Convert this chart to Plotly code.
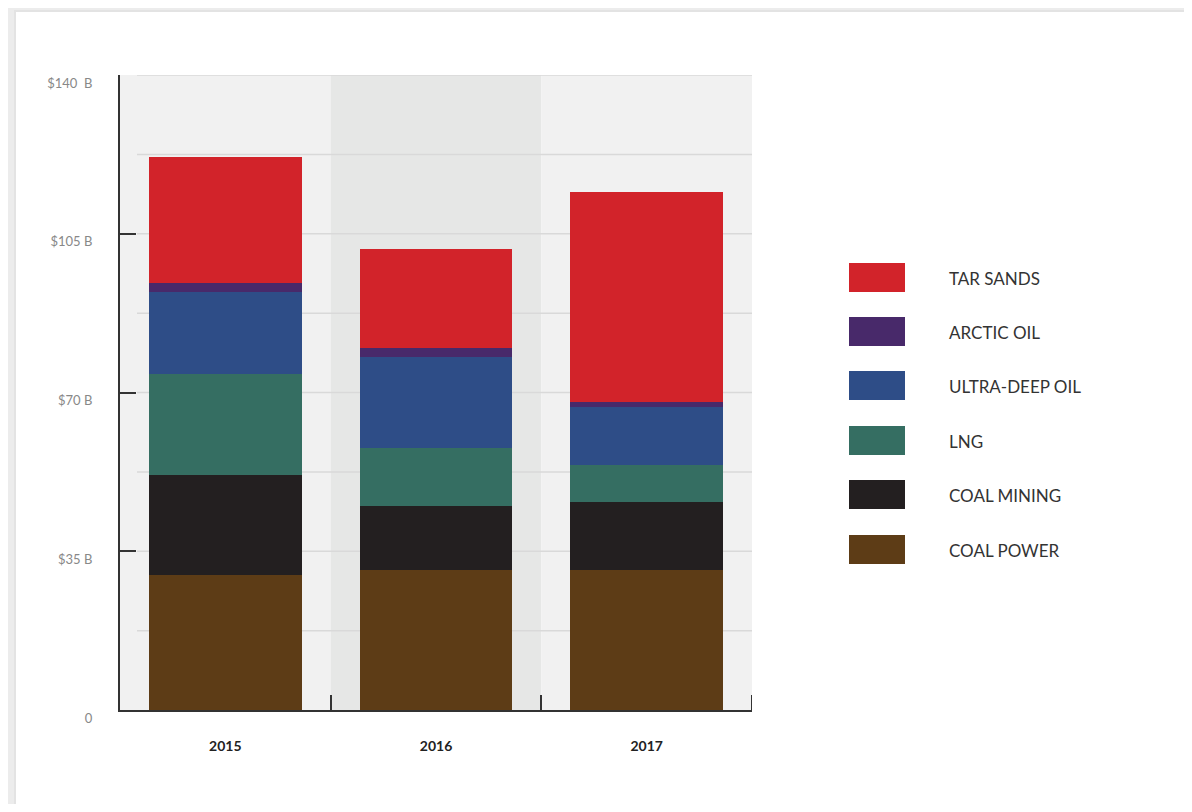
import plotly.graph_objects as go

years = ["2015", "2016", "2017"]
series_names = ["COAL POWER", "COAL MINING", "LNG", "ULTRA-DEEP OIL", "ARCTIC OIL", "TAR SANDS"]
coal_power = [29.8, 30.9, 30.9]
coal_mining = [22.1, 14.1, 15.0]
lng = [22.1, 12.8, 8.1]
ultra_deep_oil = [18.1, 20.1, 12.8]
arctic_oil = [2.0, 2.0, 1.1]
tar_sands = [27.8, 21.8, 46.2]
series_values = [coal_power, coal_mining, lng, ultra_deep_oil, arctic_oil, tar_sands]
colors = ["#5d3c16", "#231f20", "#356e62", "#2e4d87", "#48296a", "#d2232a"]
y_tick_vals = [0, 35, 70, 105, 140]
y_tick_text = ["0", "$35 B", "$70 B", "$105 B", "$140  B"]
grid_vals = [17.5, 35, 52.5, 70, 87.5, 105, 122.5, 140]

# the page body adds an 8px margin, so target page pixels are shifted by OFF
OFF = 8
W, H = 1192 - 2 * OFF, 812 - 2 * OFF
ML, MT = 120 - OFF, 75 - OFF
PW, PH = 632, 635
MR, MB = W - ML - PW, H - MT - PH


def px(x):
    return (x - OFF - ML) / PW


def py(y):
    return 1 - (y - OFF - MT) / PH


FONT = "Lato, 'Open Sans', sans-serif"

fig = go.Figure()
for name, vals, col in zip(series_names, series_values, colors):
    fig.add_trace(go.Bar(x=years, y=vals, name=name, marker=dict(color=col, line=dict(width=0)),
                         width=0.725, showlegend=False))

shapes = []
# white card
shapes.append(dict(type="rect", xref="paper", yref="paper", x0=px(15), x1=px(1230), y0=py(850), y1=py(11),
                   fillcolor="white", line=dict(color="#e3e3e3", width=2), layer="below"))
# column bands
band_cols = ["#f1f1f1", "#e6e7e6", "#f1f1f1"]
for i, c in enumerate(band_cols):
    shapes.append(dict(type="rect", xref="x", yref="y", x0=i - 0.5, x1=i + 0.5, y0=0, y1=140,
                       fillcolor=c, line=dict(width=0), layer="below"))
# grid lines
unit = PW / 3.0
for g in grid_vals:
    shapes.append(dict(type="line", xref="x", yref="y", x0=-0.5 + 17 / unit, x1=2.5, y0=g, y1=g,
                       line=dict(color="#d9d9d9", width=1.5), layer="below"))
# closing boundary tick at the right end of the x axis
shapes.append(dict(type="line", xref="x", yref="paper", x0=2.5, x1=2.5, y0=0, y1=15 / PH,
                   line=dict(color="#333333", width=2)))

# legend
leg_names = series_names[::-1]
leg_cols = colors[::-1]
leg_tops = [263, 317, 371, 426, 480, 535]
annotations = []
for nm, col, t in zip(leg_names, leg_cols, leg_tops):
    shapes.append(dict(type="rect", xref="paper", yref="paper", x0=px(849), x1=px(905),
                       y0=py(t + 29), y1=py(t), fillcolor=col, line=dict(width=0)))
    annotations.append(dict(xref="paper", yref="paper", x=px(947), y=py(t + 15), text=nm,
                            showarrow=False, xanchor="left", yanchor="middle",
                            font=dict(family=FONT, size=17, color="#333333")))

fig.update_layout(
    width=W, height=H,
    margin=dict(l=ML, r=MR, t=MT, b=MB, pad=0),
    paper_bgcolor="#ececec",
    plot_bgcolor="rgba(0,0,0,0)",
    barmode="stack",
    bargap=0.275,
    shapes=shapes,
    annotations=annotations,
    showlegend=False,
    xaxis=dict(range=[-0.5, 2.5], showgrid=False, showline=True, linecolor="#333333", linewidth=2,
               ticks="inside", tickson="boundaries", ticklen=15, tickwidth=2, tickcolor="#333333",
               tickfont=dict(family=FONT, size=14, color="#222222", weight="bold"),
               ticklabelstandoff=22, zeroline=False),
    yaxis=dict(range=[0, 140], showgrid=False, showline=True, linecolor="#333333", linewidth=2,
               tickmode="array", tickvals=y_tick_vals, ticktext=y_tick_text,
               ticks="inside", ticklen=16, tickwidth=2, tickcolor="#333333",
               tickfont=dict(family=FONT, size=13, color="#888888"),
               ticklabelstandoff=23, ticklabelshift=8, zeroline=False),
)

fig.write_html("out.html")
